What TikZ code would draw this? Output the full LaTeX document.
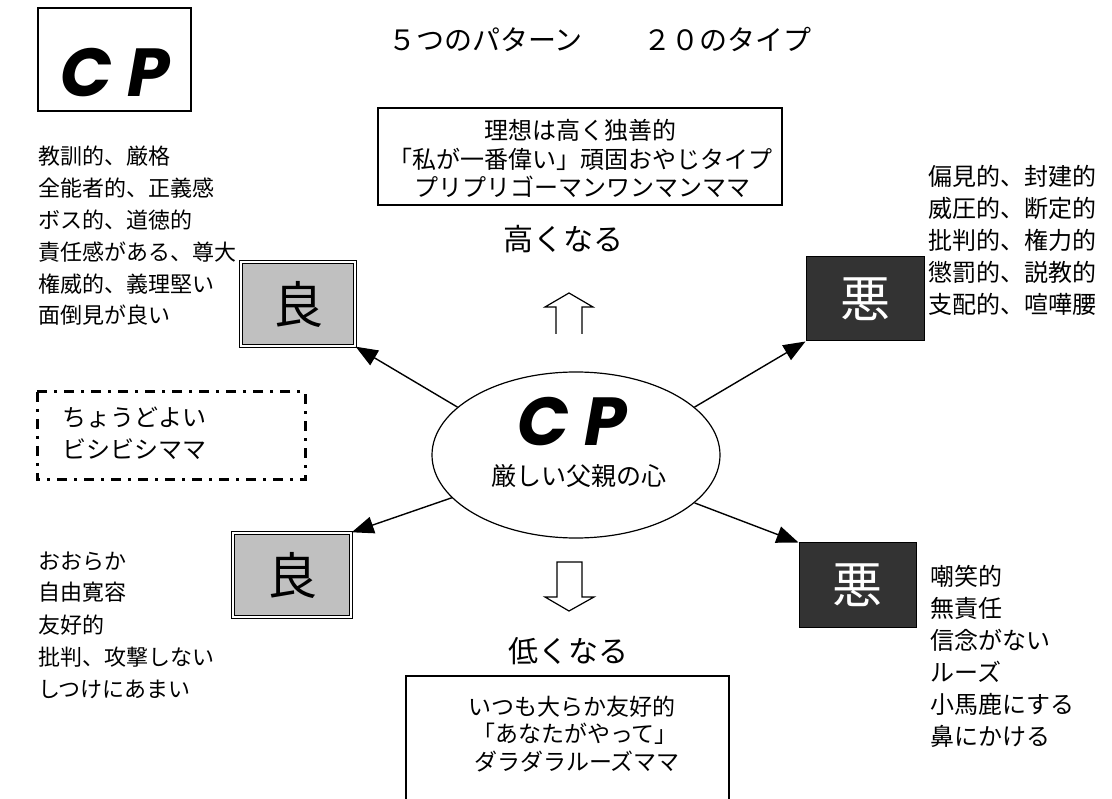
\documentclass[tikz,border=0pt]{standalone}
\usepackage{fontspec}
\setmainfont{Noto Sans CJK JP}
\newfontfamily\cpfont{Poppins}
\usetikzlibrary{shapes.geometric,arrows.meta}
\newcommand\jfs[1]{\fontsize{#1}{#1}\selectfont}
\definecolor{ryogray}{HTML}{C0C0C0}
\definecolor{akudark}{HTML}{333333}
\begin{document}
\begin{tikzpicture}[x=1pt,y=-1pt,
  txt/.style={inner sep=0pt, font=\jfs{24}, anchor=base west},
  ctxt/.style={inner sep=0pt, anchor=base},
  cpstyle/.style={inner sep=0pt, anchor=base, text depth=0pt, font=\cpfont\bfseries\itshape\jfs{68}},
  ryo/.style={draw, line width=1.4pt, double distance=2pt, fill=ryogray, inner sep=0pt, font=\jfs{50}},
  aku/.style={draw, line width=1pt, fill=akudark, text=white, inner sep=0pt, font=\jfs{50}},
  conn/.style={line width=1.4pt, -{Triangle[length=22pt,width=17pt]}},
  hollow/.style={draw, line width=1.2pt, fill=white},
  plainbox/.style={draw, line width=1.2pt, inner sep=0pt}]
\useasboundingbox (0,0) rectangle (1112,799);
\fill[white] (0,0) rectangle (1112,799);

% top-left CP box
\node[draw, line width=2pt, minimum width=153pt, minimum height=103pt, inner sep=0pt] (cpbox) at (114.5,59.5) {};
\node[cpstyle] (cptl) at (115,97) {C P};

% title
\node[ctxt, font=\jfs{28}, anchor=base west] (title1) at (388,50.6) {５つのパターン};
\node[ctxt, font=\jfs{28}, anchor=base west] (title2) at (643,50.6) {２０のタイプ};

% top box
\node[plainbox, minimum width=404pt, minimum height=97pt] (topbox) at (580,156.5) {};
\node[ctxt, font=\jfs{24}] (tb1) at (580,140) {理想は高く独善的};
\node[ctxt, font=\jfs{24}] (tb2) at (580,169) {「私が一番偉い」頑固おやじタイプ};
\node[ctxt, font=\jfs{24}] (tb3) at (582,197) {プリプリゴーマンワンマンママ};

% bottom box (extends past the bottom edge)
\node[plainbox, minimum width=323pt, minimum height=140pt] (botbox) at (567.5,746) {};
\node[ctxt, font=\jfs{23}] (bb1) at (572,715) {いつも大らか友好的};
\node[ctxt, font=\jfs{23}] (bb2) at (575,742) {「あなたがやって」};
\node[ctxt, font=\jfs{23}] (bb3) at (577,770) {ダラダラルーズママ};

% higher / lower
\node[ctxt, font=\jfs{30}] (high) at (563,251) {高くなる};
\node[ctxt, font=\jfs{30}] (low) at (568,662) {低くなる};
\draw[hollow] (556,334) -- (556,307) -- (545,307) -- (569,293) -- (593,307) -- (582,307) -- (582,334);
\draw[hollow] (557,562) -- (557,597) -- (545,597) -- (569,611) -- (594,597) -- (582,597) -- (582,562) -- cycle;

% centre ellipse
\node[draw, ellipse, line width=1.2pt, minimum width=288pt, minimum height=166pt, inner sep=0pt] (ell) at (576,455) {};
\node[cpstyle] (cpc) at (572,446) {C P};
\node[ctxt, font=\jfs{25}] (strict) at (579,486) {厳しい父親の心};

% good / bad boxes
\node[ryo, minimum width=114pt, minimum height=84pt] (ryo1) at (298,304) {良};
\node[ryo, minimum width=118pt, minimum height=84pt] (ryo2) at (292,575) {良};
\node[aku, minimum width=118pt, minimum height=84pt] (aku1) at (865,299) {悪};
\node[aku, minimum width=117pt, minimum height=84pt] (aku2) at (857.5,585) {悪};

% connectors
\draw[conn] (ell.158) -- (ryo1.south east);
\draw[conn] (ell.199) -- (ryo2.north east);
\draw[conn] (ell.22.8) -- (aku1.south west);
\draw[conn] (ell.-22) -- (aku2.north west);

% dash-dot box
\draw[line width=3pt, dash pattern=on 10pt off 7pt on 3pt off 7pt] (37,392) rectangle (305,480);
\node[txt] (just1) at (62,427) {ちょうどよい};
\node[txt] (just2) at (62,459) {ビシビシママ};

% left upper list
\foreach \t [count=\i] in {教訓的、厳格, 全能者的、正義感, ボス的、道徳的, 責任感がある、尊大, 権威的、義理堅い, 面倒見が良い}
  \node[txt, font=\jfs{22}] (lu\i) at (38,{165+31.8*(\i-1)}) {\t};
% right upper list
\foreach \t [count=\i] in {偏見的、封建的, 威圧的、断定的, 批判的、権力的, 懲罰的、説教的, 支配的、喧嘩腰}
  \node[txt] (ru\i) at (928,{186+32*(\i-1)}) {\t};
% left lower list
\foreach \t [count=\i] in {おおらか, 自由寛容, 友好的, 批判、攻撃しない, しつけにあまい}
  \node[txt, font=\jfs{22}] (ll\i) at (38,{569+32*(\i-1)}) {\t};
% right lower list
\foreach \t [count=\i] in {嘲笑的, 無責任, 信念がない, ルーズ, 小馬鹿にする, 鼻にかける}
  \node[txt] (rl\i) at (930,{585+32*(\i-1)}) {\t};
\end{tikzpicture}
\end{document}
